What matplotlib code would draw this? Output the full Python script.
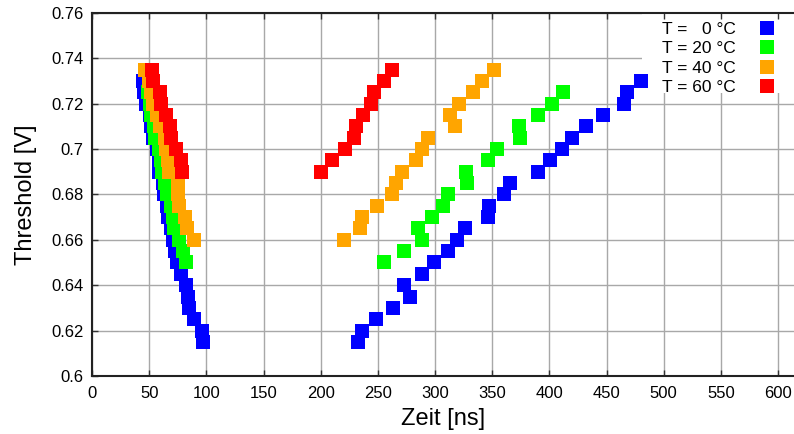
import matplotlib
matplotlib.use('Agg')
import matplotlib.pyplot as plt
from matplotlib.patches import Rectangle

plt.rcParams['font.family'] = ['Liberation Sans', 'DejaVu Sans']

# threshold levels [V] for each temperature (falling edge / rising edge)
y_0c = [0.730, 0.725, 0.720, 0.715, 0.710, 0.705, 0.700, 0.695, 0.690, 0.685, 0.680, 0.675,
        0.670, 0.665, 0.660, 0.655, 0.650, 0.645, 0.640, 0.635, 0.630, 0.625, 0.620, 0.615]
x_0c_left = [44.5, 45.5, 47.5, 50.5, 52, 53.5, 57, 58.5, 59, 62, 63, 66,
             66.5, 69, 71, 72.5, 74.5, 77.5, 82, 84, 85, 89, 96, 97.5]
y_0c_right = [0.615, 0.620, 0.625, 0.630, 0.635, 0.640, 0.645, 0.650, 0.655, 0.660, 0.665, 0.670,
              0.675, 0.680, 0.685, 0.690, 0.695, 0.700, 0.705, 0.710, 0.715, 0.720, 0.725, 0.730]
x_0c_right = [233, 236, 248, 263, 278, 273, 289, 299, 311, 319, 326, 346,
              347, 360, 366, 390, 401, 411, 420, 432, 447, 465, 468, 480]

y_20c = [0.725, 0.720, 0.715, 0.710, 0.705, 0.700, 0.695, 0.690,
         0.685, 0.680, 0.675, 0.670, 0.665, 0.660, 0.655, 0.650]
x_20c_left = [49, 50.5, 52, 54, 55.5, 58.5, 60, 61.5, 64, 66, 69, 71, 72, 76, 80, 82]
y_20c_right = [0.650, 0.655, 0.660, 0.665, 0.670, 0.675, 0.680, 0.685,
               0.690, 0.695, 0.700, 0.705, 0.710, 0.715, 0.720, 0.725]
x_20c_right = [255.5, 273, 289, 285.5, 297, 307, 311, 328,
               327, 346.5, 354.5, 374.5, 373.5, 390.5, 402, 412]

y_40c = [0.735, 0.730, 0.725, 0.720, 0.715, 0.710, 0.705, 0.700,
         0.695, 0.690, 0.685, 0.680, 0.675, 0.670, 0.665, 0.660]
x_40c_left = [46, 50, 52, 53.5, 56.5, 59.5, 63.5, 65, 66.5, 67.5, 75.5, 75.5, 76, 81, 83.5, 89.5]
y_40c_right = [0.660, 0.665, 0.670, 0.675, 0.680, 0.685, 0.690, 0.695,
               0.700, 0.705, 0.710, 0.715, 0.720, 0.725, 0.730, 0.735]
x_40c_right = [220.5, 234, 236.5, 249, 262, 266, 271.5, 283.5,
               288.5, 294, 317.5, 313, 321, 333, 341, 352]

y_60c = [0.735, 0.730, 0.725, 0.720, 0.715, 0.710, 0.705, 0.700, 0.695, 0.690]
x_60c_left = [52.5, 53.5, 59.5, 60.5, 64.5, 68.5, 69.5, 73.5, 78, 79]
y_60c_right = [0.690, 0.695, 0.700, 0.705, 0.710, 0.715, 0.720, 0.725, 0.730, 0.735]
x_60c_right = [200, 209.5, 221, 229.5, 231, 237, 244, 246.5, 255.5, 262.5]

labels = ['T =   0 °C', 'T = 20 °C', 'T = 40 °C', 'T = 60 °C']
colors = ['#0000ff', '#00ff00', '#ffa500', '#ff0000']
series = [
    (x_0c_left, y_0c, x_0c_right, y_0c_right),
    (x_20c_left, y_20c, x_20c_right, y_20c_right),
    (x_40c_left, y_40c, x_40c_right, y_40c_right),
    (x_60c_left, y_60c, x_60c_right, y_60c_right),
]

fig = plt.figure(figsize=(7.94, 4.34), dpi=100)
ax = fig.add_axes([0.1159, 0.1336, 0.8841, 0.837])

ax.set_xlim(0, 614)
ax.set_ylim(0.6, 0.76)
ax.set_xticks(range(0, 601, 50))
ax.set_yticks([0.6, 0.62, 0.64, 0.66, 0.68, 0.7, 0.72, 0.74, 0.76])
ax.set_yticklabels(['0.6', '0.62', '0.64', '0.66', '0.68', '0.7', '0.72', '0.74', '0.76'])

# grid lines behind everything
for xv in ax.get_xticks():
    ax.axvline(xv, color='#a8a8a8', lw=1.0, zorder=0.5)
for yv in ax.get_yticks():
    ax.axhline(yv, color='#a8a8a8', lw=1.0, zorder=0.5)

# white area under the legend hides the grid there
ax.add_patch(Rectangle((0.784, 0.78), 0.3, 0.3, transform=ax.transAxes,
                       facecolor='white', edgecolor='none', zorder=1))

handles = []
for (xl, yl, xr, yr), c, lab in zip(series, colors, labels):
    h, = ax.plot(xl, yl, ls='none', marker='s', ms=10, mew=0, color=c, label=lab, zorder=2)
    ax.plot(xr, yr, ls='none', marker='s', ms=10, mew=0, color=c, zorder=2)
    handles.append(h)

leg = ax.legend(handles=handles, loc='upper right', bbox_to_anchor=(0.99, 1.006),
                frameon=False, markerfirst=False, fontsize=12.5, handlelength=1.0,
                handletextpad=1.3, borderpad=0.15, labelspacing=0.24, numpoints=1)

for side in ['left', 'bottom', 'top']:
    ax.spines[side].set_linewidth(1.5)
    ax.spines[side].set_color('#222222')
ax.spines['right'].set_visible(False)

ax.tick_params(axis='both', direction='in', length=4, width=1, color='#333333',
               labelsize=12, top=True, right=False)
ax.tick_params(axis='y', pad=6)
ax.tick_params(axis='x', pad=7)

ax.set_xlabel('Zeit [ns]', fontsize=17, labelpad=5)
ax.set_ylabel('Threshold [V]', fontsize=17, labelpad=10)

fig.savefig('out.png', dpi=100)
